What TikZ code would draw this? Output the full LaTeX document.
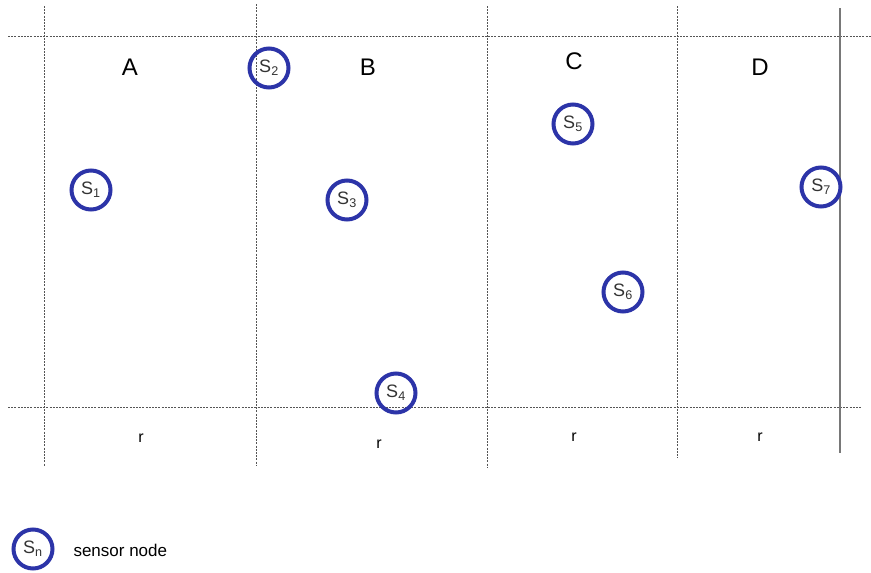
\documentclass[tikz,border=0pt]{standalone}
\usepackage{fontspec}
\setmainfont{Liberation Sans}
\definecolor{sensorblue}{RGB}{44,52,168}
\definecolor{gridgray}{RGB}{85,85,85}
\definecolor{edgegray}{RGB}{120,120,120}
\newcommand{\sn}[1]{S\textsubscript{#1}}
\begin{document}
\begin{tikzpicture}[
    x=1pt, y=-1pt,
    sensor/.style={circle, draw=sensorblue, line width=4pt, minimum size=39pt, inner sep=0pt, text=black!80, font=\fontsize{18}{18}\selectfont},
    zone/.style={font=\fontsize{24}{24}\selectfont},
    rlbl/.style={font=\fontsize{16}{16}\selectfont},
    grid/.style={gridgray, line width=0.9pt, dash pattern=on 2pt off 1.2pt},
]
\useasboundingbox (0,0) rectangle (871,573);

% Grid lines
\draw[grid] (8,36) -- (871,36);
\draw[grid] (8,407) -- (862,407);
\draw[grid] (44,6) -- (44,466);
\draw[grid] (256,4) -- (256,466);
\draw[grid] (487,6) -- (487,467);
\draw[grid] (677,6) -- (677,458);
\draw[edgegray, line width=1.2pt] (840,8) -- (840,453);

% Zone labels
\node[zone] (zA) at (130,67) {A};
\node[zone] (zB) at (368,67) {B};
\node[zone] (zC) at (574,61) {C};
\node[zone] (zD) at (760,67) {D};

% Width labels
\node[rlbl] (rA) at (141,438) {r};
\node[rlbl] (rB) at (379,444) {r};
\node[rlbl] (rC) at (574,437) {r};
\node[rlbl] (rD) at (760,437) {r};

% Sensor nodes
\node[sensor] (s1) at (91,190) {\sn{1}};
\node[sensor] (s2) at (269,68) {\sn{2}};
\node[sensor] (s3) at (347,200) {\sn{3}};
\node[sensor] (s4) at (396,393) {\sn{4}};
\node[sensor] (s5) at (573,124) {\sn{5}};
\node[sensor] (s6) at (623,292) {\sn{6}};
\node[sensor] (s7) at (821,187) {\sn{7}};

% Legend
\node[sensor] (sn) at (33,549) {\sn{n}};
\node[font=\fontsize{17}{17}\selectfont, anchor=west] (leg) at (70,550) {sensor node};

\end{tikzpicture}
\end{document}
